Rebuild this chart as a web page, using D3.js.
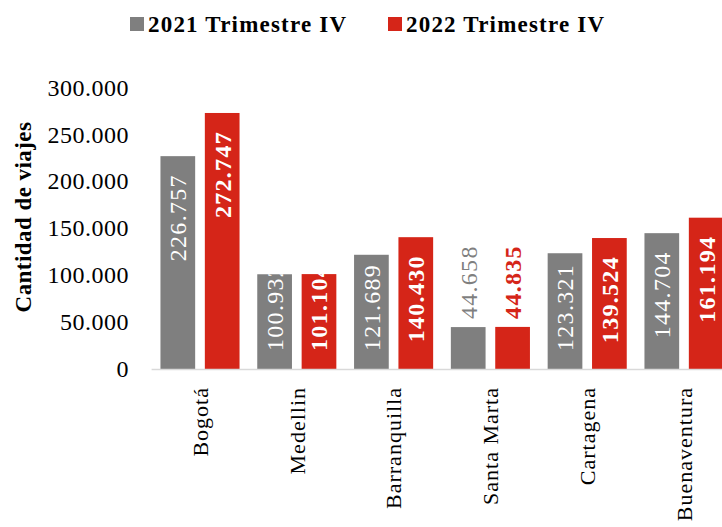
<!DOCTYPE html>
<html>
<head>
<meta charset="utf-8">
<script src="https://cdn.jsdelivr.net/npm/d3@7"></script>
<style>
  body { margin: 0; background: #fff; }
  text { font-family: "Liberation Serif", serif; }
</style>
</head>
<body>
<div id="chart"></div>
<script>
// Chart data
var cities = ["Bogotá", "Medellin", "Barranquilla", "Santa Marta", "Cartagena", "Buenaventura"];
var series = ["2021 Trimestre IV", "2022 Trimestre IV"];
var values2021 = [226757, 100932, 121689, 44658, 123321, 144704];
var values2022 = [272747, 101104, 140430, 44835, 139524, 161194];
var yTicks = [0, 50000, 100000, 150000, 200000, 250000, 300000];
var colors = ["#7f7f7f", "#d52518"];

var svgWidth = 722;
var svgHeight = 527;

var svg = d3.select("#chart")
    .append("svg")
    .attr("width", svgWidth)
    .attr("height", svgHeight);

// Scales
var xScale = d3.scaleBand()
    .domain(cities)
    .range([151.6, 732.4])
    .paddingInner(0.183)
    .paddingOuter(0.0915);

var xSub = d3.scaleBand()
    .domain(series)
    .range([0, xScale.bandwidth()])
    .paddingInner(0.218);

var yScale = d3.scaleLinear()
    .domain([0, 300000])
    .range([369, 87.4]);

var fmt = d3.formatLocale({ decimal: ",", thousands: ".", grouping: [3], currency: ["", ""] }).format(",d");

// Y axis (labels only)
var leftAxis = d3.axisLeft(yScale).tickValues(yTicks).tickFormat(fmt).tickSize(0).tickPadding(0);
var yAxisG = svg.append("g")
    .attr("transform", "translate(129,0)")
    .call(leftAxis);
yAxisG.select(".domain").remove();
yAxisG.selectAll("text")
    .attr("font-family", "Liberation Serif")
    .attr("font-size", 24)
    .attr("letter-spacing", 0.5)
    .attr("fill", "#000");

// X axis
var bottomAxis = d3.axisBottom(xScale).tickSize(0).tickPadding(0);
var xAxisG = svg.append("g")
    .attr("transform", "translate(0,369)")
    .call(bottomAxis);
xAxisG.select(".domain").remove();
xAxisG.selectAll("text")
    .attr("font-family", "Liberation Serif")
    .attr("font-size", 22)
    .attr("letter-spacing", 1)
    .attr("fill", "#000")
    .attr("text-anchor", "end")
    .attr("transform", "rotate(-90)")
    .attr("x", -18)
    .attr("y", 0)
    .attr("dy", "0.35em");

// Table of bars built from the arrays
var rows = [];
cities.forEach(function(c, i) {
    rows.push({ city: c, s: 0, value: values2021[i] });
    rows.push({ city: c, s: 1, value: values2022[i] });
});

var defs = svg.append("defs");
rows.forEach(function(d, i) {
    defs.append("clipPath").attr("id", "clip" + i)
        .append("rect")
        .attr("x", xScale(d.city) + xSub(series[d.s]))
        .attr("y", yScale(d.value))
        .attr("width", xSub.bandwidth())
        .attr("height", yScale(0) - yScale(d.value));
});

svg.append("g").selectAll("rect")
    .data(rows)
    .enter()
    .append("rect")
    .attr("x", d => xScale(d.city) + xSub(series[d.s]))
    .attr("y", d => yScale(d.value))
    .attr("width", xSub.bandwidth())
    .attr("height", d => yScale(0) - yScale(d.value))
    .attr("fill", d => colors[d.s]);

// Baseline
svg.append("line")
    .attr("x1", 151.6).attr("x2", 722)
    .attr("y1", yScale(0) + 0.5).attr("y2", yScale(0) + 0.5)
    .attr("stroke", "#d9d9d9")
    .attr("stroke-width", 1.5);

// Data labels
var labelG = svg.append("g");
rows.forEach(function(d, i) {
    var cx = xScale(d.city) + xSub(series[d.s]) + xSub.bandwidth() / 2;
    var top = yScale(d.value);
    var h = yScale(0) - top;
    var t = labelG.append("text")
        .attr("font-size", 24)
        .attr("font-weight", d.s === 1 ? "bold" : "normal")
        .attr("letter-spacing", 1.3)
        .attr("dy", "0.35em")
        .text(fmt(d.value));
    var len = t.node().getComputedTextLength();
    if (h > 60) {
        var textTop = Math.min(top + 18, yScale(0) - 18 - len);
        t.attr("text-anchor", "end")
            .attr("fill", "#fff")
            .attr("transform", "translate(" + cx + "," + textTop + ") rotate(-90)")
            .attr("clip-path", null);
        // wrap so clipping uses screen coordinates
        var g = labelG.append("g").attr("clip-path", "url(#clip" + i + ")");
        g.node().appendChild(t.node());
    } else {
        t.attr("text-anchor", "start")
            .attr("fill", colors[d.s])
            .attr("transform", "translate(" + cx + "," + (top - 8) + ") rotate(-90)");
    }
});

// Y axis title
svg.append("text")
    .attr("transform", "translate(23,217) rotate(-90)")
    .attr("text-anchor", "middle")
    .attr("dy", "0.35em")
    .attr("font-size", 23)
    .attr("font-weight", "bold")
    .attr("letter-spacing", 0.45)
    .text("Cantidad de viajes");

// Legend
var legendX = [130, 388];
series.forEach(function(s, i) {
    svg.append("rect")
        .attr("x", legendX[i]).attr("y", 17)
        .attr("width", 14).attr("height", 14)
        .attr("fill", colors[i]);
    svg.append("text")
        .attr("x", legendX[i] + 18)
        .attr("y", 31.5)
        .attr("font-size", 23)
        .attr("font-weight", "bold")
        .attr("letter-spacing", 1.2)
        .text(s);
});
</script>
</body>
</html>
